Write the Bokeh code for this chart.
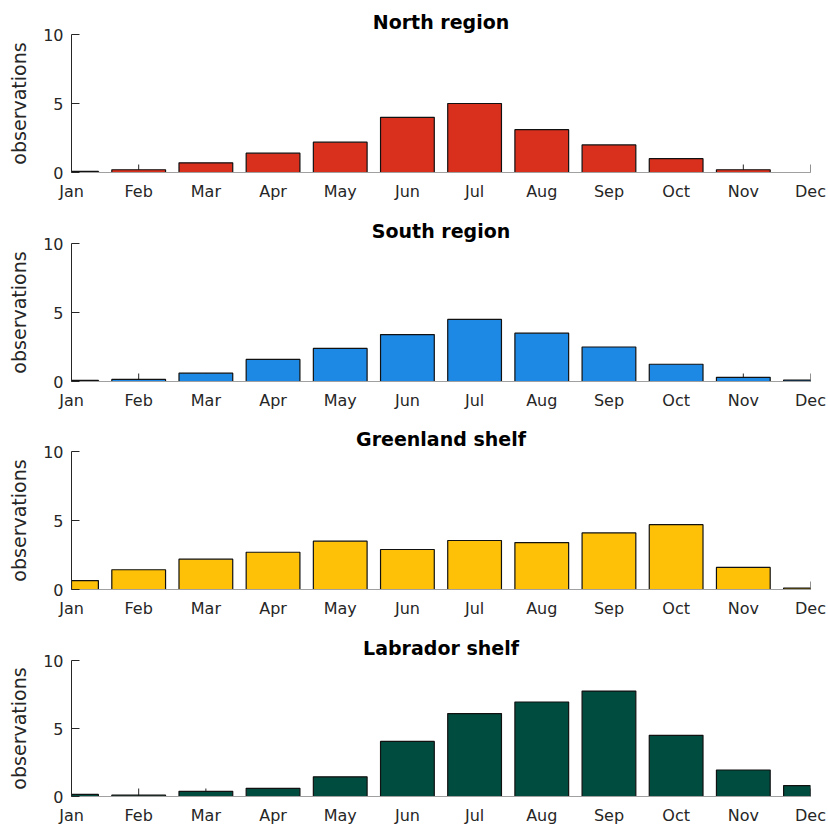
import math

from bokeh.plotting import figure
from bokeh.layouts import column
from bokeh.models import FixedTicker, Range1d
from bokeh.embed import file_html
from bokeh.resources import INLINE

# Monthly observation counts per region
months = ["Jan", "Feb", "Mar", "Apr", "May", "Jun", "Jul", "Aug", "Sep", "Oct", "Nov", "Dec"]
month_pos = list(range(1, 13))

north = [0.08, 0.2, 0.7, 1.4, 2.2, 4.0, 5.0, 3.1, 2.0, 1.0, 0.2, 0.0]
south = [0.08, 0.15, 0.6, 1.6, 2.4, 3.4, 4.5, 3.5, 2.5, 1.25, 0.3, 0.1]
greenland = [0.65, 1.43, 2.2, 2.7, 3.5, 2.9, 3.55, 3.4, 4.1, 4.7, 1.6, 0.1]
labrador = [0.15, 0.1, 0.38, 0.6, 1.45, 4.05, 6.1, 6.95, 7.75, 4.5, 1.95, 0.8]

titles = ["North region", "South region", "Greenland shelf", "Labrador shelf"]
colors = ["#D9301E", "#1E88E5", "#FFC107", "#004D40"]
series = [north, south, greenland, labrador]

FONT = "DejaVu Sans"
AXIS_COL = "#262626"

heights = [209, 208, 209, 201]
bottoms = [37, 36, 37, 29]


def panel(title, vals, color, h, bottom):
    p = figure(width=828, height=h, output_backend="svg", toolbar_location=None,
               x_range=Range1d(1, 12), y_range=Range1d(0, 10),
               min_border_left=71, min_border_right=18, min_border_top=34,
               min_border_bottom=bottom)

    # inward month ticks, drawn first so the bars cover them; the lower half
    # of each dash falls outside the frame and is clipped away
    p.scatter(x=month_pos, y=[0] * len(month_pos), marker="dash", size=16,
              angle=math.pi / 2, line_color=AXIS_COL, line_width=1)

    p.vbar(x=month_pos, top=vals, width=0.8, fill_color=color,
           line_color="#111111", line_width=1.2)

    p.title.text = title
    p.title.align = "center"
    p.title.text_font = FONT
    p.title.text_font_size = "19px"
    p.title.text_font_style = "bold"
    p.title.text_color = "black"
    p.title.standoff = 3

    p.outline_line_color = None
    p.xgrid.grid_line_color = None
    p.ygrid.grid_line_color = None
    p.background_fill_color = "white"
    p.border_fill_color = "white"

    xa = p.xaxis[0]
    xa.ticker = FixedTicker(ticks=month_pos)
    xa.major_label_overrides = {m: lab for m, lab in zip(month_pos, months)}
    xa.axis_line_color = "#a0a0a0"
    xa.major_tick_line_color = None
    xa.major_tick_in = 0
    xa.major_tick_out = 0
    xa.minor_tick_line_color = None
    xa.major_label_standoff = 9
    xa.major_label_text_font = FONT
    xa.major_label_text_font_size = "16px"
    xa.major_label_text_color = AXIS_COL

    ya = p.yaxis[0]
    ya.ticker = FixedTicker(ticks=[0, 5, 10])
    ya.axis_line_color = AXIS_COL
    ya.major_tick_line_color = AXIS_COL
    ya.major_tick_in = 8
    ya.major_tick_out = 0
    ya.minor_tick_line_color = None
    ya.major_label_standoff = 8
    ya.major_label_text_font = FONT
    ya.major_label_text_font_size = "16px"
    ya.major_label_text_color = AXIS_COL
    ya.axis_label = "observations"
    ya.axis_label_text_font = FONT
    ya.axis_label_text_font_size = "19px"
    ya.axis_label_text_font_style = "normal"
    ya.axis_label_text_color = AXIS_COL
    ya.axis_label_standoff = 10
    return p


plots = [panel(t, v, c, h, b) for t, v, c, h, b in zip(titles, series, colors, heights, bottoms)]
layout = column(*plots, spacing=0)

open("out.html", "w").write(file_html(layout, INLINE))
